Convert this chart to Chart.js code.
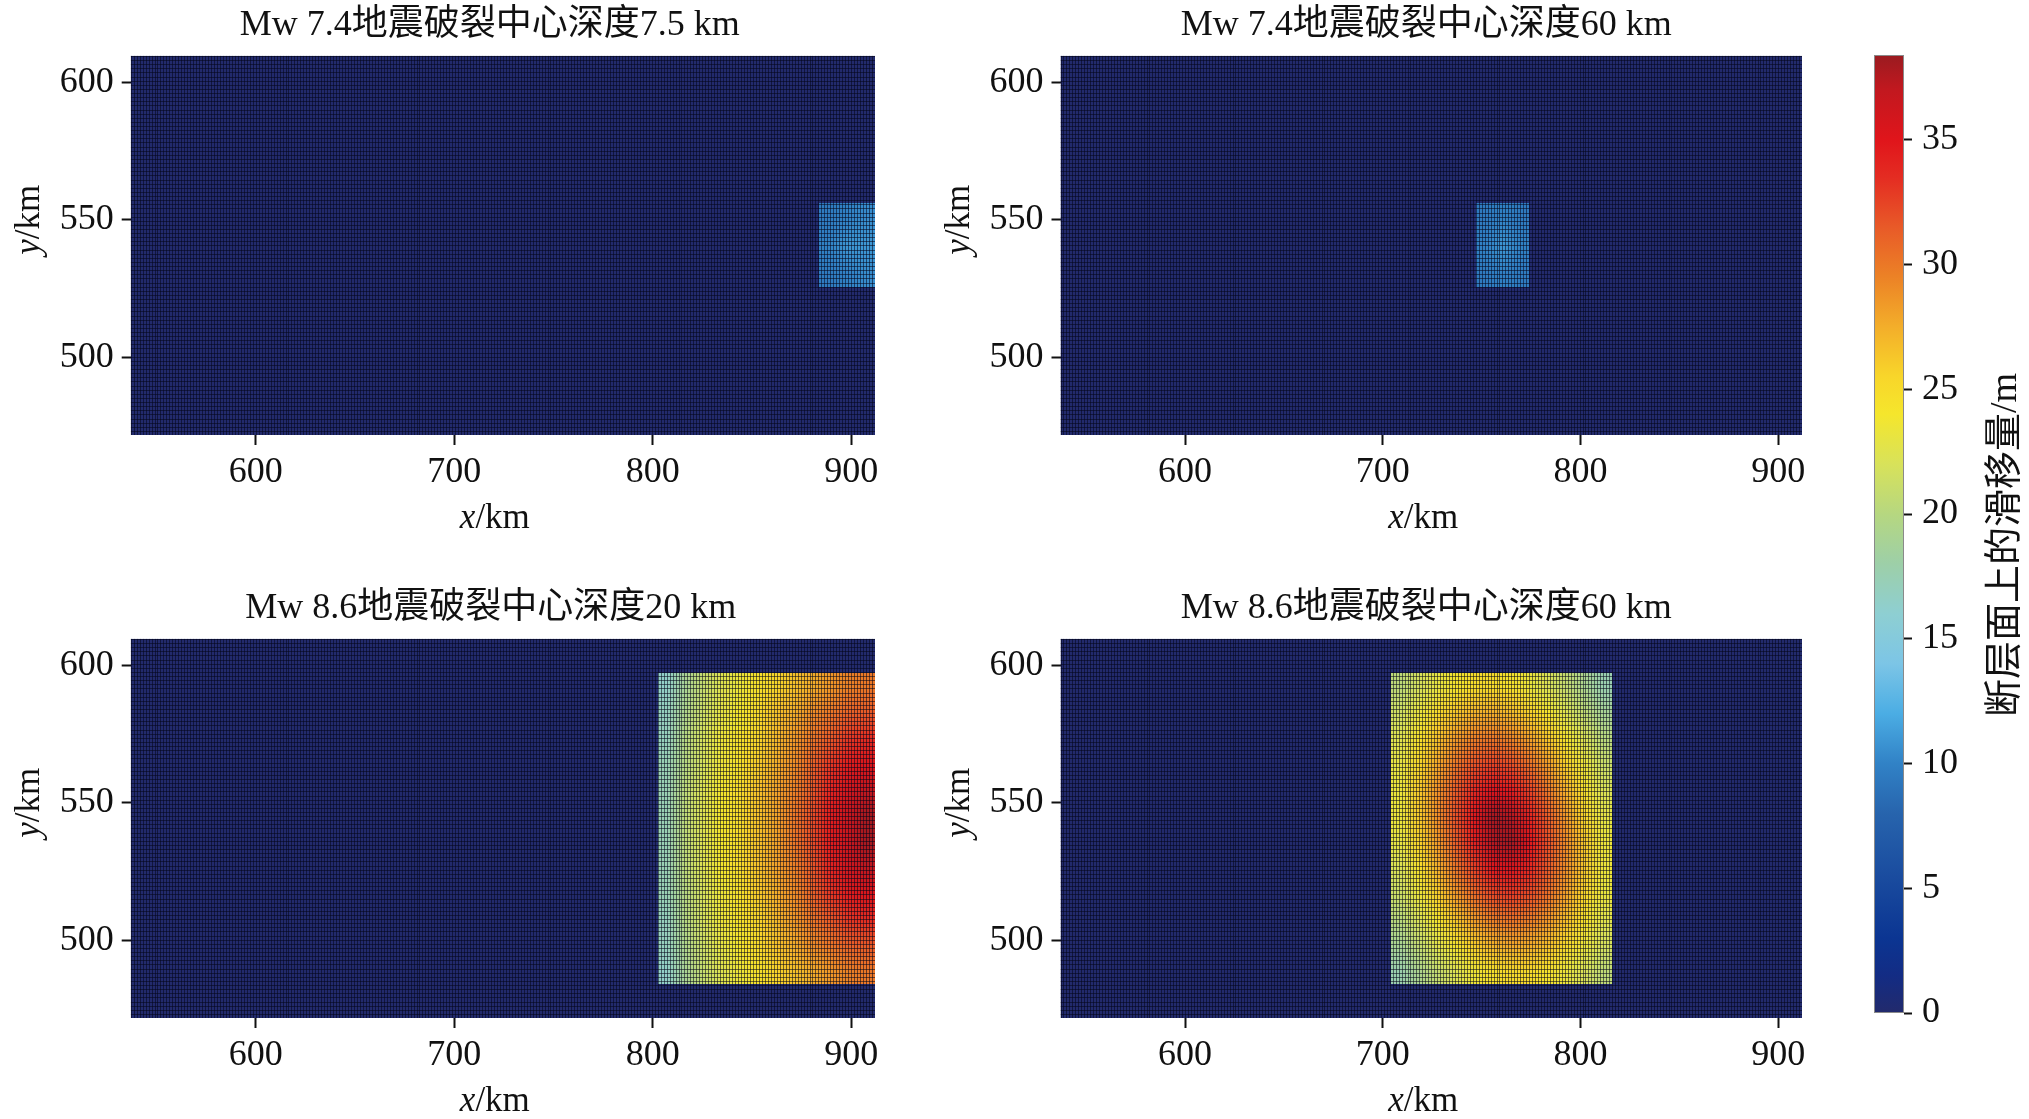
<!DOCTYPE html>
<html>
<head>
<meta charset="utf-8">
<script src="https://cdn.jsdelivr.net/npm/chart.js@4.4.0/dist/chart.umd.min.js"></script>
<style>
html, body { margin: 0; padding: 0; background: #fff; }
body { width: 2029px; height: 1119px; position: relative; overflow: hidden; }
canvas { position: absolute; }
</style>
</head>
<body>
<canvas id="p1" width="930" height="536" style="left:0px;top:0px;width:930px;height:536px"></canvas>
<canvas id="p2" width="930" height="536" style="left:930px;top:0px;width:930px;height:536px"></canvas>
<canvas id="p3" width="930" height="536" style="left:0px;top:583px;width:930px;height:536px"></canvas>
<canvas id="p4" width="930" height="536" style="left:930px;top:583px;width:930px;height:536px"></canvas>
<canvas id="cbar" width="189" height="1119" style="left:1840px;top:0px;width:189px;height:1119px"></canvas>
<script>
// model grid (km)
var xLimits = [537, 912];
var yLimits = [471.7, 609.8];
var xTickValues = [600, 700, 800, 900];
var yTickValues = [500, 550, 600];
var slipTickValues = [0, 5, 10, 15, 20, 25, 30, 35];
var slipMax = 38.4;
var meshKm = 1.5;

var panelTitles = [
  "Mw 7.4地震破裂中心深度7.5 km",
  "Mw 7.4地震破裂中心深度60 km",
  "Mw 8.6地震破裂中心深度20 km",
  "Mw 8.6地震破裂中心深度60 km"
];
var cbarLabel = "断层面上的滑移量/m";

// slipping patches: [x from, x to, y from, y to] in km, slip rows listed top -> bottom (m)
var patch74a = [884, 912, 525.6, 556.3];
var slip74a = [
  [9.5, 10, 10.5],
  [10, 11, 11],
  [9.5, 10, 10.5]
];
var patch74b = [747, 774, 525.6, 556.3];
var slip74b = [
  [9.5, 10, 9.5],
  [10, 11, 10],
  [9.5, 10, 9.5]
];
var patch86a = [802.5, 912, 484, 597.2];
var slip86a = [
  [16.5, 19, 21, 22.5, 23.5, 24.5, 25.5, 26.5, 27.5, 28.5, 29.5, 30],
  [17, 19.5, 21.5, 23, 24, 25, 26.5, 27.5, 29, 30, 31, 31.5],
  [17, 20, 22, 23.5, 24.5, 25.5, 27, 28.5, 30, 31.5, 33, 33.5],
  [17.5, 20, 22, 23.5, 24.5, 26, 27.5, 29, 31, 33, 34.5, 35.5],
  [17.5, 20.5, 22.5, 24, 25, 26.5, 28, 29.5, 31.5, 34, 36, 37],
  [17.5, 20.5, 22.5, 24, 25, 26.5, 28, 30, 32, 34.5, 36.5, 38],
  [17.5, 20.5, 22.5, 24, 25, 26.5, 28, 30, 32, 34.5, 36.5, 38],
  [17.5, 20.5, 22.5, 24, 25, 26.5, 28, 29.5, 31.5, 34, 36, 37],
  [17.5, 20, 22, 23.5, 24.5, 26, 27.5, 29, 31, 33, 34.5, 35.5],
  [17, 20, 22, 23.5, 24.5, 25.5, 27, 28.5, 30, 31.5, 33, 33.5],
  [17, 19.5, 21.5, 23, 24, 25, 26.5, 27.5, 29, 30, 31, 31.5],
  [16.5, 19, 21, 22.5, 23.5, 24.5, 25.5, 26.5, 27.5, 28.5, 29.5, 30]
];
var patch86b = [704, 816, 484, 597.2];
var slip86b = [
  [20.4, 21.9, 23.1, 24.1, 24.8, 24.9, 24.3, 23.4, 22.2, 20.8, 19.2, 17.6],
  [21.6, 23.3, 25, 26.3, 27.2, 27.4, 26.8, 25.7, 24, 22.4, 20.6, 18.9],
  [22.5, 24.5, 26.6, 28.4, 29.6, 30, 29.4, 28.1, 26.3, 24.1, 22.2, 20.1],
  [23, 25.4, 27.8, 30.1, 31.8, 32.5, 32, 30.4, 28.3, 25.8, 23.4, 21.2],
  [23.4, 26.1, 28.8, 31.4, 33.7, 35.3, 34.6, 32.6, 30, 27.3, 24.6, 22.2],
  [23.4, 26.1, 29, 31.9, 34.8, 38, 37.5, 34.1, 31.3, 28.4, 25.5, 22.9],
  [23, 25.6, 28.4, 31.3, 34.2, 37.5, 38.2, 35, 31.9, 29, 26.2, 23.4],
  [22.2, 24.6, 27.4, 30.1, 32.6, 34.8, 35.4, 33.9, 31.5, 28.9, 26.2, 23.4],
  [21.3, 23.4, 25.9, 28.5, 30.6, 32.2, 32.8, 32.1, 30.4, 28.1, 25.5, 23.2],
  [20.2, 22.2, 24.1, 26.4, 28.3, 29.6, 30.2, 29.8, 28.6, 26.7, 24.6, 22.6],
  [19, 20.8, 22.6, 24.2, 25.9, 27.1, 27.7, 27.5, 26.6, 25.1, 23.4, 21.8],
  [17.7, 19.3, 20.9, 22.4, 23.6, 24.5, 25.1, 25, 24.3, 23.3, 22, 20.5]
];

// colour map used by the figure (slip in m -> colour)
var cmapStops = [
  [0, '#222a6c'], [1.5, '#132c84'], [3, '#0b3592'], [5.5, '#1a4c9f'], [8, '#2764ad'],
  [10, '#3182c6'], [12, '#4bade4'], [14, '#7cc5e6'], [16, '#8ecfd2'], [18, '#9dcfa8'],
  [20, '#b6d780'], [22, '#d8e25a'], [24, '#f5e62c'], [25.5, '#f8d62a'], [27.5, '#f3ae2a'],
  [29.5, '#ec8226'], [31.5, '#e85a28'], [33.5, '#e42c22'], [35, '#e0151b'], [37, '#c2181f'],
  [38.4, '#9a1b20']
];

var FONT = "'Liberation Serif', 'Noto Sans CJK SC', serif";
var INK = '#111';
var meshColor = 'rgba(4, 6, 26, 0.55)';
var titleShift = [-13, -5, -12, -5];

function hexRgb(h) {
  return [parseInt(h.substr(1, 2), 16), parseInt(h.substr(3, 2), 16), parseInt(h.substr(5, 2), 16)];
}
function cmapRgb(v) {
  var s = cmapStops;
  if (v <= s[0][0]) return hexRgb(s[0][1]);
  for (var i = 1; i < s.length; i++) {
    if (v <= s[i][0]) {
      var t = (v - s[i - 1][0]) / (s[i][0] - s[i - 1][0]);
      var a = hexRgb(s[i - 1][1]), b = hexRgb(s[i][1]);
      return [Math.round(a[0] + (b[0] - a[0]) * t), Math.round(a[1] + (b[1] - a[1]) * t), Math.round(a[2] + (b[2] - a[2]) * t)];
    }
  }
  return hexRgb(s[s.length - 1][1]);
}
function cmap(v) {
  var c = cmapRgb(v);
  return 'rgb(' + c[0] + ',' + c[1] + ',' + c[2] + ')';
}

// turn a patch table into cells for the dataset
function patchCells(box, rows) {
  var out = [];
  var nr = rows.length, nc = rows[0].length;
  var dx = (box[1] - box[0]) / nc, dy = (box[3] - box[2]) / nr;
  for (var r = 0; r < nr; r++) {
    for (var c = 0; c < nc; c++) {
      out.push({ x: box[0] + (c + 0.5) * dx, y: box[3] - (r + 0.5) * dy, v: rows[r][c], r: r, c: c });
    }
  }
  return out;
}

var heatPlugin = {
  id: 'heat',
  beforeDatasetsDraw: function(chart) {
    var ctx = chart.ctx, a = chart.chartArea, xs = chart.scales.x, ys = chart.scales.y;
    ctx.save();
    ctx.beginPath();
    ctx.rect(a.left, a.top, a.right - a.left, a.bottom - a.top);
    ctx.clip();
    // whole fault mesh, zero slip
    var gx0 = xs.getPixelForValue(xLimits[0]), gx1 = xs.getPixelForValue(xLimits[1]);
    var gy0 = ys.getPixelForValue(yLimits[1]), gy1 = ys.getPixelForValue(yLimits[0]);
    ctx.fillStyle = cmap(0);
    ctx.fillRect(gx0, gy0, gx1 - gx0, gy1 - gy0);
    // slipping patch, smooth shaded between cell centres
    var ds = chart.data.datasets[0];
    var off = document.createElement('canvas');
    off.width = ds.nCols; off.height = ds.nRows;
    var octx = off.getContext('2d');
    var img = octx.createImageData(ds.nCols, ds.nRows);
    ds.data.forEach(function(p) {
      var k = (p.r * ds.nCols + p.c) * 4, col = cmapRgb(p.v);
      img.data[k] = col[0]; img.data[k + 1] = col[1]; img.data[k + 2] = col[2]; img.data[k + 3] = 255;
    });
    octx.putImageData(img, 0, 0);
    var b = ds.box;
    var px0 = Math.round(xs.getPixelForValue(b[0])), px1 = Math.round(xs.getPixelForValue(b[1]));
    var py0 = Math.round(ys.getPixelForValue(b[3])), py1 = Math.round(ys.getPixelForValue(b[2]));
    ctx.imageSmoothingEnabled = true;
    ctx.imageSmoothingQuality = 'low';
    ctx.drawImage(off, px0, py0, px1 - px0, py1 - py0);
    // mesh lines
    ctx.strokeStyle = meshColor;
    ctx.lineWidth = 1;
    ctx.beginPath();
    var k, px;
    for (k = xLimits[0]; k <= xLimits[1] + 0.01; k += meshKm) {
      px = Math.round(xs.getPixelForValue(k)) + 0.5;
      ctx.moveTo(px, a.top); ctx.lineTo(px, a.bottom);
    }
    for (k = yLimits[0]; k <= yLimits[1] + 0.01; k += meshKm) {
      px = Math.round(ys.getPixelForValue(k)) + 0.5;
      ctx.moveTo(a.left, px); ctx.lineTo(a.right, px);
    }
    ctx.stroke();
    ctx.restore();
  },
  afterDraw: function(chart) {
    var ctx = chart.ctx, a = chart.chartArea, o = chart.options.plugins.heat;
    ctx.save();
    ctx.fillStyle = INK;
    // panel title
    ctx.font = '36px ' + FONT;
    ctx.textAlign = 'center';
    ctx.textBaseline = 'middle';
    ctx.fillText(o.title, (a.left + a.right) / 2 + o.shift, 26);
    // axis titles with italic variable names
    ctx.textBaseline = 'alphabetic';
    ctx.textAlign = 'left';
    var fN = '35px ' + FONT, fI = 'italic 35px ' + FONT;
    ctx.font = fI; var w1 = ctx.measureText('x').width;
    ctx.font = fN; var w2 = ctx.measureText('/km').width;
    var cx = (a.left + a.right) / 2 - 8, base = a.bottom + 93;
    ctx.font = fI; ctx.fillText('x', cx - (w1 + w2) / 2, base);
    ctx.font = fN; ctx.fillText('/km', cx - (w1 + w2) / 2 + w1, base);
    ctx.translate(39, a.top + 164);
    ctx.rotate(-Math.PI / 2);
    ctx.font = fI; w1 = ctx.measureText('y').width;
    ctx.font = fN; w2 = ctx.measureText('/km').width;
    ctx.font = fI; ctx.fillText('y', -(w1 + w2) / 2, 0);
    ctx.font = fN; ctx.fillText('/km', -(w1 + w2) / 2 + w1, 0);
    ctx.restore();
  }
};

function makePanel(id, idx, box, rows, yWidth, padRight) {
  return new Chart(document.getElementById(id), {
    type: 'scatter',
    data: { datasets: [{ data: patchCells(box, rows), box: box, nRows: rows.length, nCols: rows[0].length,
      pointRadius: 0, pointHoverRadius: 0, showLine: false }] },
    options: {
      responsive: false,
      animation: false,
      events: [],
      layout: { padding: { left: 0, right: padRight, top: 55.7, bottom: 0 } },
      plugins: {
        legend: { display: false },
        tooltip: { enabled: false },
        title: { display: false },
        heat: { title: panelTitles[idx], shift: titleShift[idx] }
      },
      scales: {
        x: {
          type: 'linear', min: xLimits[0], max: xLimits[1],
          afterBuildTicks: function(s) { s.ticks = xTickValues.map(function(v) { return { value: v }; }); },
          afterFit: function(s) { s.height = 101; },
          border: { display: false },
          grid: { drawOnChartArea: false, drawTicks: true, tickLength: 10, tickWidth: 2, tickColor: INK },
          ticks: { color: INK, padding: 6, maxRotation: 0, font: { family: FONT, size: 36 } }
        },
        y: {
          type: 'linear', min: yLimits[0], max: yLimits[1],
          afterBuildTicks: function(s) { s.ticks = yTickValues.map(function(v) { return { value: v }; }); },
          afterFit: function(s) { s.width = yWidth; },
          border: { display: false },
          grid: { drawOnChartArea: false, drawTicks: true, tickLength: 9, tickWidth: 2, tickColor: INK },
          ticks: { color: INK, padding: 8, font: { family: FONT, size: 36 } }
        }
      }
    },
    plugins: [heatPlugin]
  });
}

makePanel('p1', 0, patch74a, slip74a, 130.7, 55);
makePanel('p2', 1, patch74b, slip74b, 130.5, 58);
makePanel('p3', 2, patch86a, slip86a, 130.7, 55);
makePanel('p4', 3, patch86b, slip86b, 130.5, 58);

// colour bar
var cbarPlugin = {
  id: 'cbarFill',
  beforeDatasetsDraw: function(chart) {
    var ctx = chart.ctx, a = chart.chartArea, ys = chart.scales.y;
    var g = ctx.createLinearGradient(0, ys.getPixelForValue(0), 0, ys.getPixelForValue(slipMax));
    cmapStops.forEach(function(s) { g.addColorStop(s[0] / slipMax, s[1]); });
    ctx.save();
    ctx.fillStyle = g;
    ctx.fillRect(a.left, a.top, a.right - a.left, a.bottom - a.top);
    ctx.strokeStyle = '#8a8a8a';
    ctx.lineWidth = 1;
    ctx.strokeRect(a.left + 0.5, a.top + 0.5, a.right - a.left - 1, a.bottom - a.top - 1);
    ctx.restore();
  },
  afterDraw: function(chart) {
    var ctx = chart.ctx, a = chart.chartArea;
    ctx.save();
    ctx.translate(166, (a.top + a.bottom) / 2 + 11);
    ctx.rotate(-Math.PI / 2);
    ctx.fillStyle = INK;
    ctx.font = '38px ' + FONT;
    ctx.textAlign = 'center';
    ctx.textBaseline = 'middle';
    ctx.fillText(cbarLabel, 0, 0);
    ctx.restore();
  }
};

new Chart(document.getElementById('cbar'), {
  type: 'scatter',
  data: { datasets: [{ data: [], pointRadius: 0 }] },
  options: {
    responsive: false,
    animation: false,
    events: [],
    layout: { padding: { left: 34, right: 0, top: 55, bottom: 106 } },
    plugins: { legend: { display: false }, tooltip: { enabled: false } },
    scales: {
      x: { display: false, min: 0, max: 1 },
      y: {
        position: 'right', min: 0, max: slipMax,
        afterBuildTicks: function(s) { s.ticks = slipTickValues.map(function(v) { return { value: v }; }); },
        afterFit: function(s) { s.width = 125; },
        border: { display: false },
        grid: { drawOnChartArea: false, drawTicks: true, tickLength: 8, tickWidth: 2, tickColor: INK },
        ticks: { color: INK, padding: 10, font: { family: FONT, size: 36 } }
      }
    }
  },
  plugins: [cbarPlugin]
});
</script>
</body>
</html>
